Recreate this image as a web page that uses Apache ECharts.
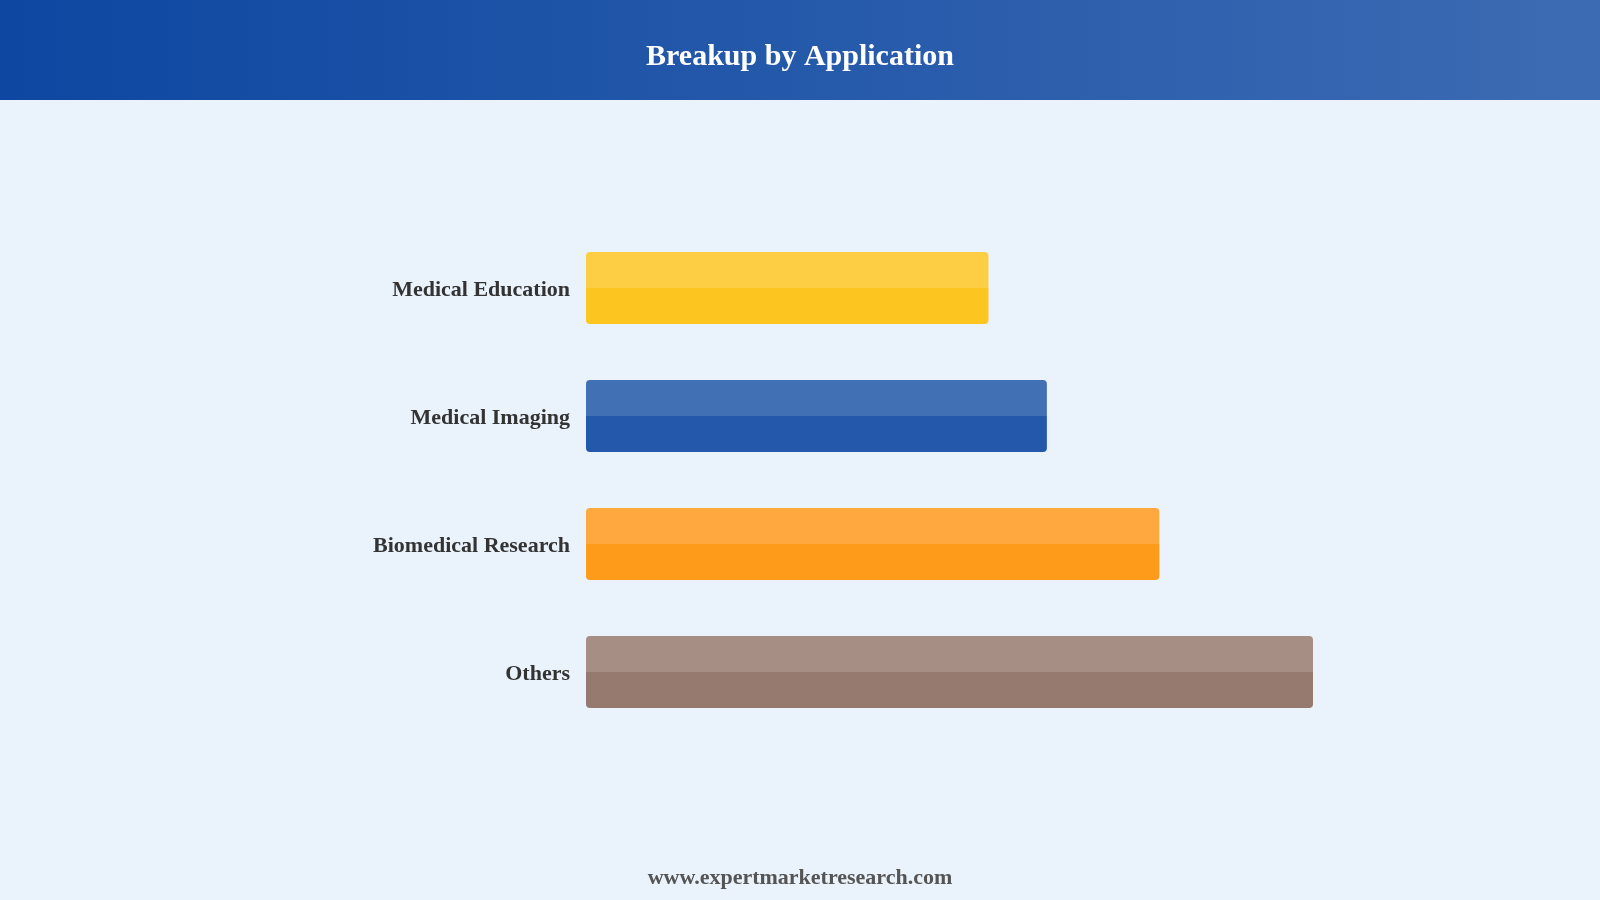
<!DOCTYPE html>
<html>
<head>
<meta charset="utf-8">
<script src="https://cdn.jsdelivr.net/npm/echarts@6/dist/echarts.min.js"></script>
<style>
  html, body { margin: 0; padding: 0; background: #EAF2FC; }
  #chart { width: 1600px; height: 900px; }
</style>
</head>
<body>
<div id="chart"></div>
<script>
const categories = ['Medical Education', 'Medical Imaging', 'Biomedical Research', 'Others'];
const values = [18.6, 21.3, 26.5, 33.6];
const topColors = ['#FDCE44', '#4170B4', '#FEA83F', '#A68E85'];
const baseColors = ['#FCC520', '#2358AA', '#FE9B1B', '#967A70'];
const titleText = 'Breakup by Application';
const footerText = 'www.expertmarketresearch.com';

const chart = echarts.init(document.getElementById('chart'));
const font = '"Liberation Serif", "Times New Roman", serif';

chart.setOption({
  backgroundColor: '#EAF2FC',
  animation: false,
  title: {
    text: titleText,
    left: 'center',
    top: 52,
    textVerticalAlign: 'middle',
    textStyle: { color: '#FFFFFF', fontSize: 30, fontWeight: 'bold', fontFamily: font }
  },
  graphic: [
    {
      type: 'rect', left: 0, top: 0, z: -1,
      shape: { width: 1600, height: 100 },
      style: {
        fill: new echarts.graphic.LinearGradient(0, 0, 1, 0, [
          { offset: 0, color: '#0D47A1' },
          { offset: 1, color: '#3D6BB3' }
        ])
      }
    },
    {
      type: 'text', left: 'center', top: 867,
      style: { text: footerText, fill: '#555555', fontSize: 22, fontWeight: 'bold', fontFamily: font }
    }
  ],
  grid: { left: 586, right: 287, top: 224, bottom: 164, containLabel: false },
  xAxis: {
    type: 'value', min: 0, max: 'dataMax',
    show: false
  },
  yAxis: {
    type: 'category', inverse: true, data: categories,
    axisLine: { show: false }, axisTick: { show: false },
    axisLabel: {
      margin: 16,
      formatter: v => '{a|' + v + '}',
      rich: {
        a: { padding: [5, 0, 0, 0], color: '#333333', fontSize: 22, fontWeight: 'bold', fontFamily: font }
      }
    }
  },
  series: [{
    type: 'bar',
    barWidth: 72,
    data: values.map((v, i) => ({
      value: v,
      itemStyle: {
        borderRadius: 4,
        color: new echarts.graphic.LinearGradient(0, 0, 0, 1, [
          { offset: 0, color: topColors[i] },
          { offset: 0.5, color: topColors[i] },
          { offset: 0.5, color: baseColors[i] },
          { offset: 1, color: baseColors[i] }
        ])
      }
    }))
  }]
});
</script>
</body>
</html>
